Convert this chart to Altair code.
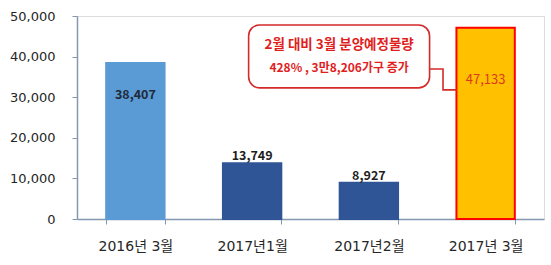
import altair as alt
import pandas as pd

categories = ["2016년 3월", "2017년1월", "2017년2월", "2017년 3월"]
values = [38407, 13749, 8927, 47133]
bar_colors = ["#5B9BD5", "#2F5597", "#2F5597", "#FFC000"]
bar_strokes = ["#5B9BD5", "#2F5597", "#2F5597", "#FF0000"]
label_text = ["38,407", "13,749", "8,927", "47,133"]
y_ticks = [0, 10000, 20000, 30000, 40000, 50000]

# callout annotation (data units: x on a 0..4 category-position scale, y in 가구)
callout_box_x = [1.47, 3.02]
callout_box_y = [32300, 47800]
callout_lines = ["2월 대비 3월 분양예정물량", "428% , 3만8,206가구 증가"]
callout_line_y = [42900, 37200]
callout_line_size = [13.5, 12]
callout_text_x = 2.245
connector_x = [3.02, 3.135, 3.135, 3.255]
connector_y = [36950, 36950, 31800, 31800]

FONT = "Noto Sans CJK KR"
AXFONT = "DejaVu Sans, Noto Sans CJK KR"

df = pd.DataFrame({"cat": categories, "val": values, "fill": bar_colors,
                   "stroke": bar_strokes, "label": label_text})

xenc = alt.X("cat:N", sort=categories, title=None,
             scale=alt.Scale(paddingInner=0.5, paddingOuter=0.25),
             axis=alt.Axis(labelAngle=0, labelFont=AXFONT, labelFontSize=14,
                           labelColor="#262626", domainColor="#8497B0",
                           tickColor="#8497B0", tickBand="extent", tickSize=5,
                           labelPadding=15, domainWidth=1.5))
yscale = alt.Scale(domain=[0, 50000], nice=False)
yaxis = alt.Axis(values=y_ticks, labelExpr="format(datum.value, ',.0f')",
                 grid=False, labelFont=AXFONT,
                 labelFontSize=13, labelColor="#262626",
                 domainColor="#8497B0", tickColor="#8497B0",
                 tickSize=5, labelPadding=17, domainWidth=1.5)
yenc = alt.Y("val:Q", scale=yscale, title=None, axis=yaxis)

base = alt.Chart(df)
bars = base.mark_bar(strokeWidth=2).encode(
    x=xenc, y=yenc,
    fill=alt.Fill("fill:N", scale=None),
    stroke=alt.Stroke("stroke:N", scale=None),
)
xl = alt.X("cat:N", sort=categories)
yl = alt.Y("val:Q", scale=yscale, title=None, axis=yaxis)
lab_in = base.transform_filter(alt.datum.cat == categories[0]).mark_text(
    font=FONT, fontSize=12.5, fontWeight="bold", color="#1F2A3A", dy=32,
    baseline="middle").encode(x=xl, y=yl, text="label:N")
lab_top = base.transform_filter(
    (alt.datum.cat == categories[1]) | (alt.datum.cat == categories[2])).mark_text(
    font=FONT, fontSize=12.5, fontWeight="bold", color="#1F1F1F", dy=0,
    baseline="bottom").encode(x=xl, y=yl, text="label:N")
lab_red = base.transform_filter(alt.datum.cat == categories[3]).mark_text(
    font=FONT, fontSize=13, color="#DC3A1E", dy=52,
    baseline="middle").encode(x=xl, y=yl, text="label:N")

main = alt.layer(bars, lab_in, lab_top, lab_red)

xq = alt.Scale(domain=[0, 4], nice=False, zero=False)
box_df = pd.DataFrame({"x": [callout_box_x[0]], "x2": [callout_box_x[1]],
                       "y": [callout_box_y[0]], "y2": [callout_box_y[1]]})
box = alt.Chart(box_df).mark_rect(fill="white", stroke="#D42A2A",
                                  strokeWidth=1.6, cornerRadius=11).encode(
    x=alt.X("x:Q", scale=xq, axis=None), x2="x2:Q",
    y=alt.Y("y:Q", scale=yscale, axis=None), y2="y2:Q")
conn_df = pd.DataFrame({"x": connector_x, "y": connector_y,
                        "o": list(range(len(connector_x)))})
conn = alt.Chart(conn_df).mark_line(color="#D42A2A", strokeWidth=1.6).encode(
    x=alt.X("x:Q", scale=xq, axis=None),
    y=alt.Y("y:Q", scale=yscale, axis=None), order="o:Q")
txt_df = pd.DataFrame({"t": callout_lines, "y": callout_line_y,
                       "s": callout_line_size,
                       "x": [callout_text_x] * len(callout_lines)})
txt = alt.Chart(txt_df).mark_text(font=FONT, fontWeight="bold",
                                  color="#E01E1E", baseline="middle").encode(
    x=alt.X("x:Q", scale=xq, axis=None),
    y=alt.Y("y:Q", scale=yscale, axis=None), text="t:N",
    size=alt.Size("s:Q", scale=None, legend=None))

annot = alt.layer(conn, box, txt)

chart = alt.layer(main, annot).resolve_scale(x="independent").resolve_axis(
    y="independent").properties(
    width=467, height=203,
    autosize=alt.AutoSizeParams(type="none"),
    padding={"left": 77, "top": 16, "right": 7, "bottom": 46},
).configure_view(stroke=None).configure(background="white")

chart.save("out.html", embed_options={"renderer": "svg", "actions": False})
